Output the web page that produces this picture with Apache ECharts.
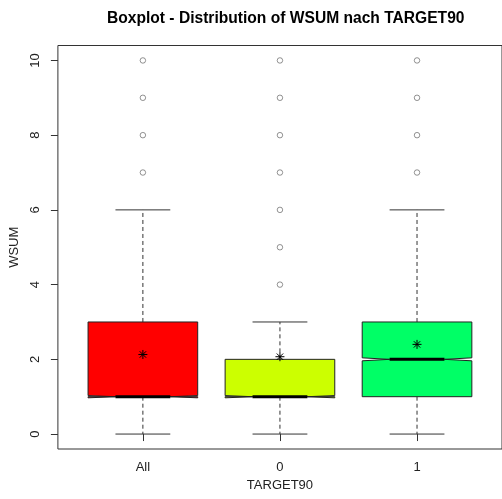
<!DOCTYPE html>
<html>
<head>
<meta charset="utf-8">
<script src="https://cdn.jsdelivr.net/npm/echarts@6/dist/echarts.min.js"></script>
<style>html,body{margin:0;padding:0;background:#fff}#c{width:502px;height:499px}</style>
</head>
<body>
<div id="c"></div>
<script>
const categories = ['All', '0', '1'];
const whiskerLow = [0, 0, 0];
const q1 = [1, 1, 1];
const median = [1, 1, 2];
const q3 = [3, 2, 3];
const whiskerHigh = [6, 3, 6];
const notchLow = [0.97, 0.97, 1.96];
const notchHigh = [1.03, 1.03, 2.04];
const means = [2.13, 2.07, 2.40];
const outliersAll = [7, 8, 9, 10];
const outliers0 = [4, 5, 6, 7, 8, 9, 10];
const outliers1 = [7, 8, 9, 10];
const yTicks = [0, 2, 4, 6, 8, 10];
const boxColors = ['#FF0000', '#CCFF00', '#00FF66'];

const FONT = "'Liberation Sans', Arial, sans-serif";
const xPos = categories.map((c, i) => i + 1);

const boxData = categories.map((c, i) => [xPos[i], whiskerLow[i], q1[i], median[i], q3[i], whiskerHigh[i], notchLow[i], notchHigh[i]]);
const outlierData = [];
[outliersAll, outliers0, outliers1].forEach((arr, i) => arr.forEach(v => outlierData.push([xPos[i], v])));
const meanData = categories.map((c, i) => [xPos[i], means[i]]);

function renderBox(params, api) {
  const i = params.dataIndex;
  const x = api.value(0), lo = api.value(1), a = api.value(2), m = api.value(3), b = api.value(4), hi = api.value(5), nl = api.value(6), nh = api.value(7);
  const hw = 0.4, nw = 0.2, cw = 0.2;
  const P = (xv, yv) => api.coord([xv, yv]);
  const line = (p1, p2, style) => ({ type: 'line', shape: { x1: p1[0], y1: p1[1], x2: p2[0], y2: p2[1] }, style: style });
  const dash = { stroke: '#333', lineWidth: 1, lineDash: [4, 3] };
  const solid = { stroke: '#333', lineWidth: 1 };
  const pts = [[x-hw,a],[x-hw,nl],[x-nw,m],[x-hw,nh],[x-hw,b],[x+hw,b],[x+hw,nh],[x+nw,m],[x+hw,nl],[x+hw,a]].map(p => P(p[0], p[1]));
  return {
    type: 'group',
    children: [
      line(P(x, b), P(x, hi), dash),
      line(P(x, a), P(x, lo), dash),
      line(P(x-cw, hi), P(x+cw, hi), solid),
      line(P(x-cw, lo), P(x+cw, lo), solid),
      { type: 'polygon', shape: { points: pts }, style: { fill: boxColors[i], stroke: '#222', lineWidth: 1 } },
      line(P(x-nw, m), P(x+nw, m), { stroke: '#000', lineWidth: 3 })
    ]
  };
}

function renderMean(params, api) {
  const c = api.coord([api.value(0), api.value(1)]);
  const r = 4.5, d = 3.2;
  const st = { stroke: '#000', lineWidth: 1 };
  const L = (x1, y1, x2, y2) => ({ type: 'line', shape: { x1: c[0]+x1, y1: c[1]+y1, x2: c[0]+x2, y2: c[1]+y2 }, style: st });
  return { type: 'group', children: [L(-r,0,r,0), L(0,-r,0,r), L(-d,-d,d,d), L(-d,d,d,-d)] };
}

const chart = echarts.init(document.getElementById('c'), null, { renderer: 'canvas' });
chart.setOption({
  animation: false,
  backgroundColor: '#fff',
  title: {
    text: 'Boxplot - Distribution of WSUM nach TARGET90',
    left: 102, top: 6,
    textStyle: { fontFamily: FONT, fontWeight: 'bold', fontSize: 15.6, color: '#000' }
  },
  grid: { left: 54.8, top: 45.5, width: 449.7, height: 403.5, show: true, borderColor: '#333', borderWidth: 1, backgroundColor: 'transparent' },
  xAxis: {
    type: 'value', min: 0.38, max: 3.62,
    name: 'TARGET90', nameLocation: 'middle', nameGap: 30,
    nameTextStyle: { fontFamily: FONT, fontSize: 13, color: '#222' },
    axisLine: { show: false },
    splitLine: { show: false },
    axisTick: { show: true, length: 7, lineStyle: { color: '#333' }, customValues: xPos },
    axisLabel: { customValues: xPos, margin: 12, fontFamily: FONT, fontSize: 13, color: '#222', formatter: v => categories[Math.round(v) - 1] }
  },
  yAxis: {
    type: 'value', min: -0.4, max: 10.4,
    name: 'WSUM', nameLocation: 'middle', nameGap: 36,
    nameTextStyle: { fontFamily: FONT, fontSize: 13, color: '#222' },
    axisLine: { show: false },
    splitLine: { show: false },
    axisTick: { show: true, length: 7, lineStyle: { color: '#333' }, customValues: yTicks },
    axisLabel: { customValues: yTicks, rotate: 90, margin: 16, fontFamily: FONT, fontSize: 13, color: '#222' }
  },
  series: [
    { type: 'custom', renderItem: renderBox, data: boxData, encode: { x: 0, y: [1, 5] }, z: 2 },
    { type: 'scatter', data: outlierData, symbol: 'circle', symbolSize: 5.5, itemStyle: { color: '#fff', borderColor: '#555', borderWidth: 0.8 }, z: 3 },
    { type: 'custom', renderItem: renderMean, data: meanData, encode: { x: 0, y: 1 }, z: 4 }
  ]
});
</script>
</body>
</html>
